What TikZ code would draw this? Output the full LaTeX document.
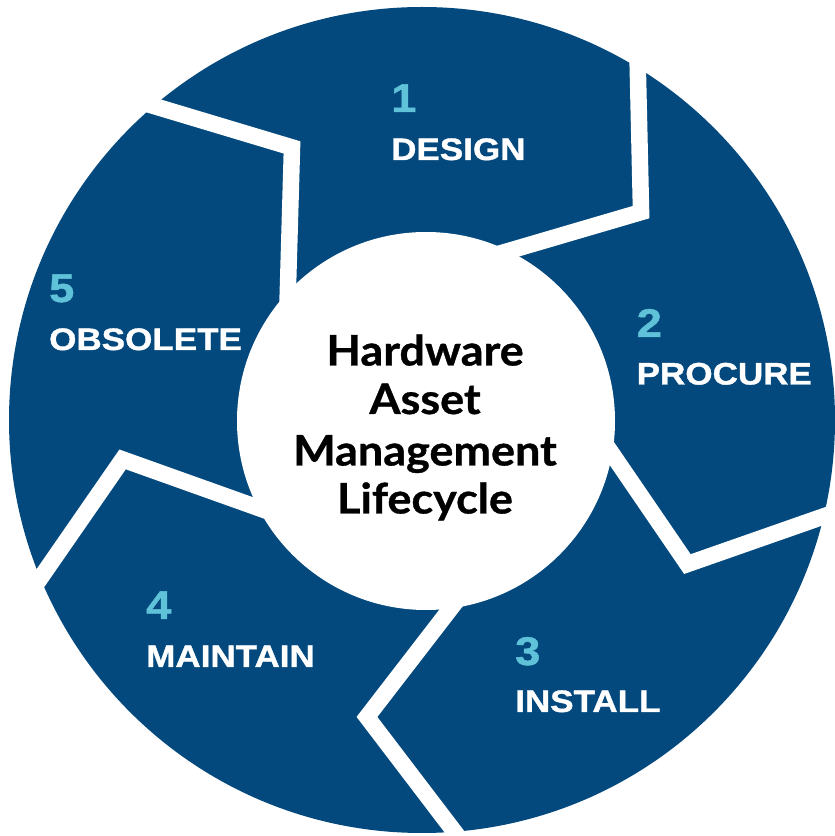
\documentclass[tikz,border=0pt]{standalone}
\usepackage{fontspec}
\usetikzlibrary{calc}
\newfontfamily\lblfont[FakeStretch=1.13, BoldFeatures={FakeBold=1.2}]{Liberation Sans}
\newfontfamily\ctrfont[FakeStretch=1.07, BoldFeatures={FakeBold=0.8}]{Lato}
\definecolor{hamblue}{HTML}{03497D}
\definecolor{hamteal}{HTML}{5FC2D8}
\begin{document}
\begin{tikzpicture}[x=1pt,y=1pt,
  gapline/.style={draw=white, line width=16.5pt, line join=miter},
  num/.style={anchor=base west, inner sep=0pt, text=hamteal, font=\lblfont\bfseries\fontsize{40}{40}\selectfont},
  lbl/.style={anchor=base west, inner sep=0pt, text=white, font=\lblfont\bfseries\fontsize{31}{31}\selectfont},
  ctr/.style={anchor=base, inner sep=0pt, text=black, font=\ctrfont\bfseries\fontsize{42}{42}\selectfont}]
\useasboundingbox (0,0) rectangle (835,836);
\fill[white] (0,0) rectangle (835,836);
\coordinate (C) at (422,416);
\coordinate (IC) at (426,415);
\fill[hamblue] (C) circle[radius=413];
\begin{scope}[shift={(C)}]
\foreach \k/\a in {0/58.5,1/130.5,2/202.5,3/274.5,4/346.5}{
  \coordinate (o\k) at (\a:413);
  \coordinate (c\k) at ({\a-15}:302);
  \coordinate (i\k) at ({\a+6}:185);
  \draw[gapline] ($(c\k)!1.3!(o\k)$) -- (c\k) -- ($(c\k)!1.3!(i\k)$);
}
\end{scope}
\fill[white] (IC) circle[radius=189];
\node[num] (n1) at (391,724) {1};
\node[lbl] (l1) at (391,676) {DESIGN};
\node[num] (n2) at (636.5,499) {2};
\node[lbl] (l2) at (636.5,451.5) {PROCURE};
\node[num] (n3) at (515,171) {3};
\node[lbl] (l3) at (515,124) {INSTALL};
\node[num] (n4) at (146,217) {4};
\node[lbl] (l4) at (146,169) {MAINTAIN};
\node[num] (n5) at (49,534) {5};
\node[lbl] (l5) at (49,486) {OBSOLETE};
\node[ctr] (t1) at (425,470.5) {Hardware};
\node[ctr] (t2) at (425,422) {Asset};
\node[ctr] (t3) at (425,370.5) {Management};
\node[ctr] (t4) at (425,322.5) {Lifecycle};
\end{tikzpicture}
\end{document}
